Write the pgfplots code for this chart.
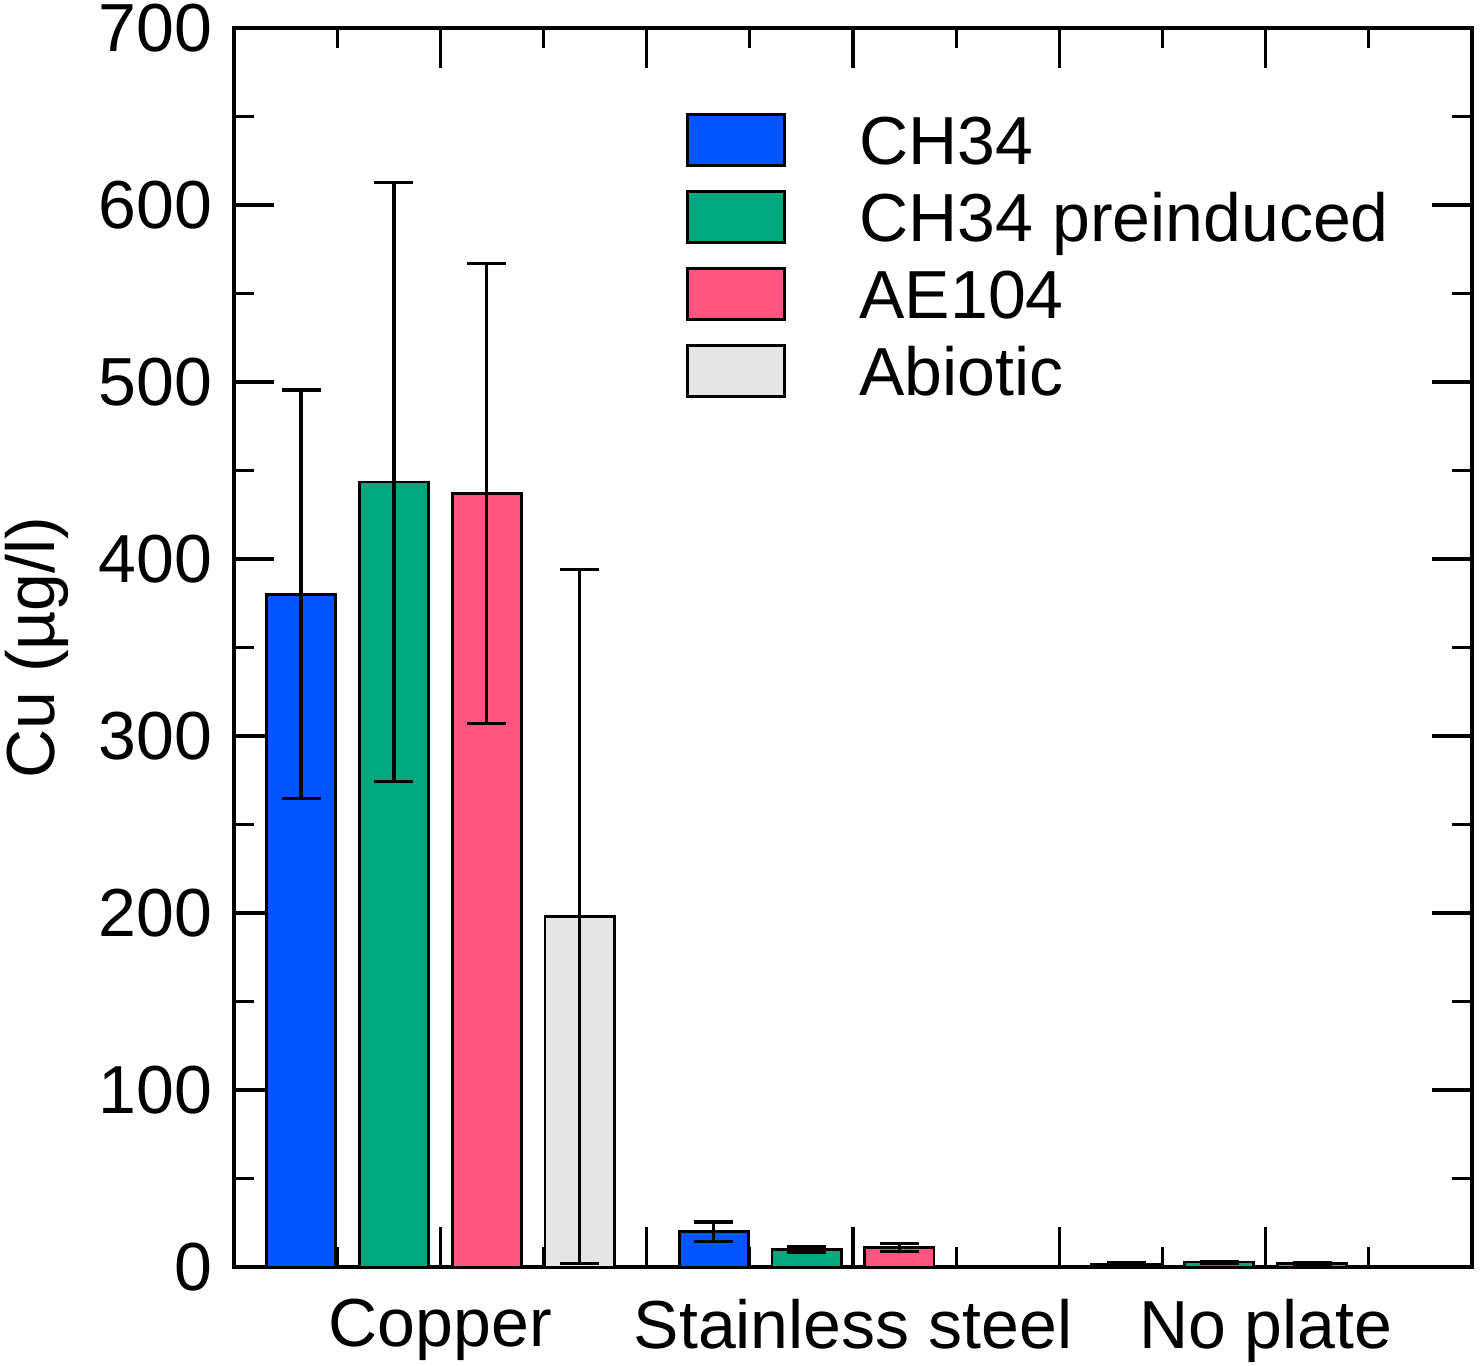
\documentclass[border=0pt]{standalone}
\usepackage{pgfplots}
\pgfplotsset{compat=1.18}
\usepackage{fontspec}
\setmainfont{Liberation Sans}
\definecolor{cblue}{RGB}{0,85,255}
\definecolor{cgreen}{RGB}{0,168,125}
\definecolor{cpink}{RGB}{255,85,128}
\definecolor{cgray}{RGB}{229,229,229}
\begin{document}
\fontsize{17bp}{20bp}\selectfont
\begin{tikzpicture}
\begin{axis}[
  ybar,
  scale only axis,
  width=309.5bp, height=309.75bp,
  xmin=0, xmax=6, ymin=0, ymax=700,
  clip=false,
  axis line style={line width=1bp},
  tick style={black, line width=0.8bp},
  major tick length=10bp, minor tick length=5bp,
  tick align=inside, xtick align=inside, ytick align=inside,
  xtick={0,1,2,3,4,5,6},
  xticklabels={,Copper,,Stainless steel,,No plate,},
  minor x tick num=1,
  ytick={0,100,...,700},
  minor y tick num=1,
  /pgf/number format/assume math mode=true,
  xticklabel style={inner sep=0pt, anchor=north, yshift=-7.75bp},
  yticklabel style={inner sep=0pt, anchor=east, xshift=-5.25bp},
  ylabel={Cu (µg/l)},
  ylabel style={at={(axis description cs:-0.1446,0.5)}, anchor=base, inner sep=0pt},
  every axis plot/.append style={draw=black, line width=0.7bp,
     bar width=0.335, bar shift=0pt,
     error bars/y dir=both, error bars/y explicit,
     error bars/error bar style={black, line width=0.8bp},
     error bars/error mark options={rotate=90, black, line width=0.8bp, mark size=4.875bp},
     legend image code/.code={\draw[##1, line width=0.7bp] (0bp,-6.4bp) rectangle (24.3bp,6.4bp);}},
  legend style={at={(rel axis cs:0.3651,0.9314)}, anchor=north west, draw=none, fill=none,
     inner sep=0pt, outer sep=0pt, row sep=5.75bp,
     nodes={inner sep=0pt, outer sep=0pt, text height=12.17bp, text depth=0pt},
     /tikz/every odd column/.append style={column sep=18.4bp}},
  legend cell align=left,
]
\addplot[fill=cblue] coordinates {(0.325,380) +- (0,115.5) (2.325,20) +- (0,5.4) (4.325,1.5) +- (0,1.2)};
\addplot[fill=cgreen] coordinates {(0.775,443.5) +- (0,169) (2.775,10) +- (0,1.5) (4.775,2.8) +- (0,0.5)};
\addplot[fill=cpink] coordinates {(1.225,437) +- (0,130) (3.225,11) +- (0,2.2) (5.225,2.2) +- (0,0.5)};
\addplot[fill=cgray] coordinates {(1.675,198) +- (0,196)};
\legend{CH34, CH34 preinduced, AE104, Abiotic}
\path (rel axis cs:0,0) -- ++(-58.5bp,-24.75bp);
\path (rel axis cs:1,1) -- ++(2.5bp,7bp);
\end{axis}
\end{tikzpicture}
\end{document}
